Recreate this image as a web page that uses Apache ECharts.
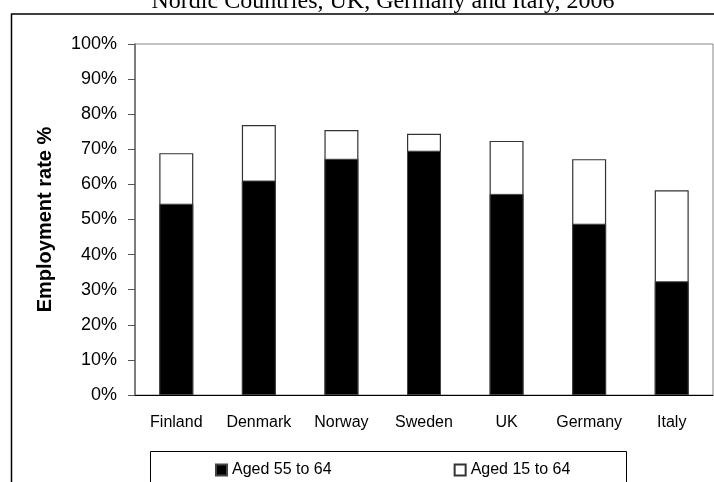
<!DOCTYPE html>
<html><head><meta charset="utf-8">
<script src="https://cdn.jsdelivr.net/npm/echarts@6/dist/echarts.min.js"></script>
<style>html,body{margin:0;padding:0;background:#fff}#c{width:714px;height:482px}</style>
</head><body><div id="c"></div>
<script>
const titleText = 'Nordic Countries, UK, Germany and Italy, 2006';
const categories = ['Finland', 'Denmark', 'Norway', 'Sweden', 'UK', 'Germany', 'Italy'];
const aged55to64 = [54.5, 61.1, 67.3, 69.6, 57.3, 48.8, 32.4];
const aged15to64 = [68.9, 76.9, 75.5, 74.4, 72.4, 67.2, 58.3];
const seriesNames = ['Aged 55 to 64', 'Aged 15 to 64'];
const yAxisName = 'Employment rate %';

const chart = echarts.init(document.getElementById('c'), null, {renderer: 'canvas'});
chart.setOption({
  animation: false,
  backgroundColor: '#fff',
  textStyle: {fontFamily: '"Liberation Sans", Arial, sans-serif'},
  graphic: [
    {type: 'rect', z: -10, shape: {x: 11.5, y: 14, width: 760, height: 560},
     style: {fill: 'none', stroke: '#000', lineWidth: 1.5}},
    {type: 'rect', z: -10, shape: {x: 150.5, y: 451.5, width: 476, height: 60},
     style: {fill: 'none', stroke: '#000', lineWidth: 1}},
    {type: 'text', z: 10, style: {text: titleText, x: 383, y: 2, align: 'center', verticalAlign: 'middle',
      font: '24px "Liberation Serif", "Times New Roman", serif', fill: '#000'}}
  ],
  grid: {left: 135, right: 1, top: 44, bottom: 87, show: true, borderColor: '#888', borderWidth: 1},
  legend: {
    data: seriesNames, left: 215, top: 462, itemWidth: 11, itemHeight: 11, itemGap: 122, padding: 0,
    icon: 'rect', textStyle: {fontSize: 16, color: '#000'}
  },
  xAxis: {
    type: 'category', data: categories,
    axisLine: {lineStyle: {color: '#000', width: 1}},
    axisTick: {length: 6, lineStyle: {color: '#000'}},
    axisLabel: {fontSize: 16, color: '#000', margin: 20, interval: 0}
  },
  yAxis: {
    type: 'value', min: 0, max: 100, interval: 10,
    name: yAxisName, nameLocation: 'middle', nameGap: 80,
    nameTextStyle: {fontSize: 20, fontWeight: 'bold', color: '#000'},
    axisLine: {show: true, lineStyle: {color: '#666', width: 1.5}},
    axisTick: {show: true, length: 7, lineStyle: {color: '#555'}},
    axisLabel: {formatter: '{value}%', fontSize: 18, color: '#000', margin: 18},
    splitLine: {show: false}
  },
  series: [
    {name: seriesNames[1], type: 'bar', data: aged15to64, barWidth: 34, barGap: '-100%',
     itemStyle: {color: '#fff', borderColor: '#333', borderWidth: 1.2}},
    {name: seriesNames[0], type: 'bar', data: aged55to64, barWidth: 34, barGap: '-100%',
     itemStyle: {color: '#000', borderColor: '#444', borderWidth: 1}}
  ]
});
</script></body></html>
